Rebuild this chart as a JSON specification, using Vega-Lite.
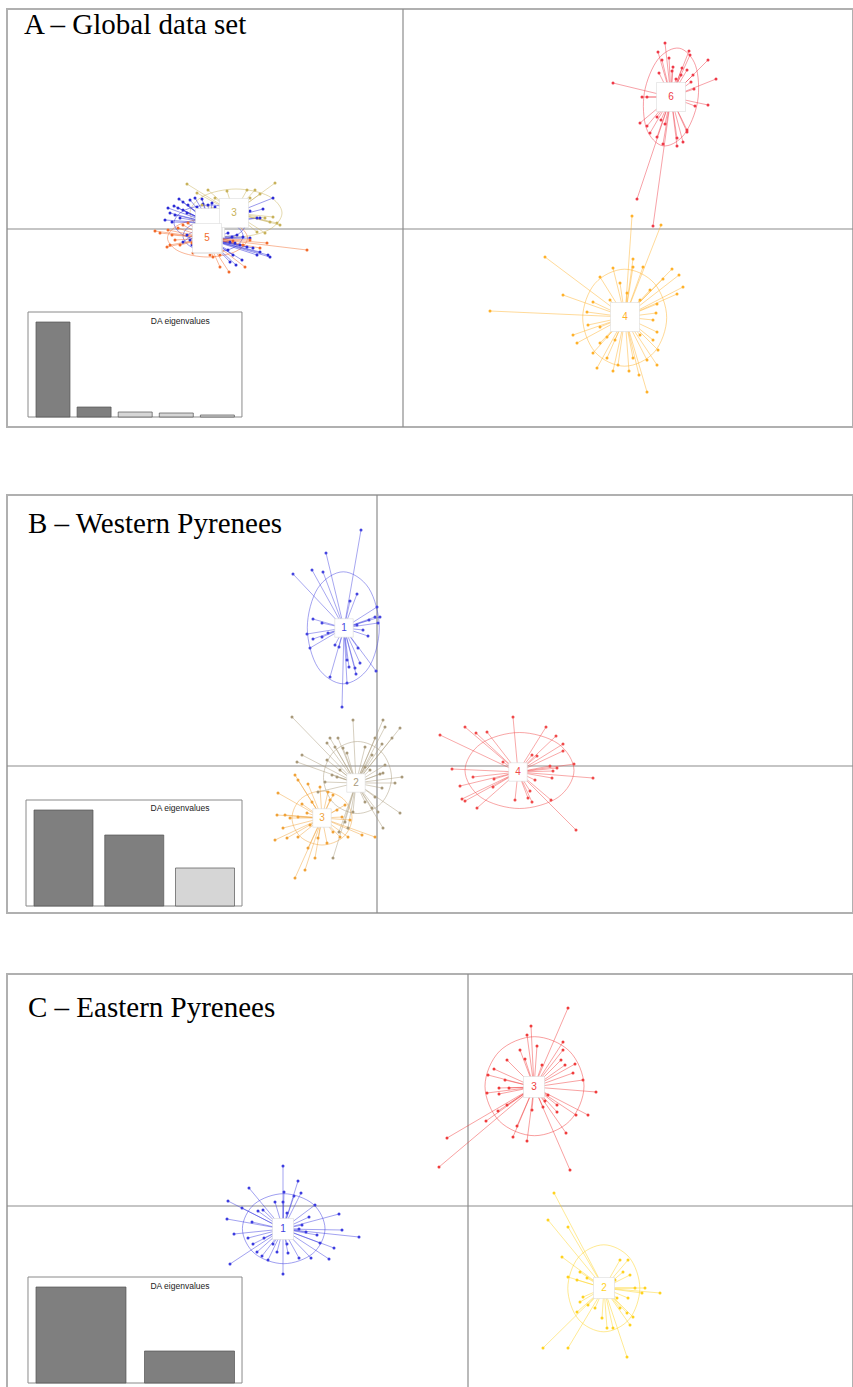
{
"$schema": "https://vega.github.io/schema/vega-lite/v6.json",
"padding": {"left": 5, "top": 7, "right": 0, "bottom": 0},
"background": "white",
"config": {"view": {"stroke": "#b0b0b0", "strokeWidth": 2}, "axis": {"disable": true}},
"resolve": {"scale": {"color": "independent", "fill": "independent"}},
"datasets": {
"ptsA": [
{"grp":"1","x":-22.4,"y":3.0},{"grp":"1","x":-22.0,"y":2.7},{"grp":"1","x":-21.3,"y":2.9},{"grp":"1","x":-20.8,"y":3.1},{"grp":"1","x":-20.1,"y":3.0},{"grp":"1","x":-19.5,"y":2.4},{"grp":"1","x":-18.8,"y":2.2},{"grp":"1","x":-22.9,"y":2.3},{"grp":"1","x":-22.5,"y":2.1},{"grp":"1","x":-22.0,"y":1.9},{"grp":"1","x":-23.3,"y":1.6},{"grp":"1","x":-22.8,"y":1.4},{"grp":"1","x":-23.8,"y":0.9},{"grp":"1","x":-23.1,"y":0.7},{"grp":"1","x":-22.3,"y":1.1},{"grp":"1","x":-21.6,"y":1.6},{"grp":"1","x":-20.6,"y":2.2},{"grp":"1","x":-20.0,"y":2.5},{"grp":"1","x":-19.1,"y":2.6},{"grp":"1","x":-21.5,"y":2.4},{"grp":"1","x":-23.5,"y":2.1},{"grp":"1","x":-13.0,"y":3.1},{"grp":"1","x":-14.0,"y":2.0},{"grp":"1","x":-14.6,"y":1.1},{"grp":"1","x":-14.3,"y":1.1},{"grp":"1","x":-15.3,"y":1.8},{"grp":"1","x":-21.6,"y":-0.6},{"grp":"1","x":-21.3,"y":-1.1},{"grp":"1","x":-22.0,"y":-1.3},{"grp":"1","x":-21.1,"y":-1.6},
{"grp":"2","x":-17.5,"y":-0.4},{"grp":"2","x":-17.1,"y":-0.8},{"grp":"2","x":-16.6,"y":-0.6},{"grp":"2","x":-16.0,"y":-0.8},{"grp":"2","x":-15.3,"y":-0.9},{"grp":"2","x":-17.3,"y":-1.3},{"grp":"2","x":-16.8,"y":-1.4},{"grp":"2","x":-16.3,"y":-1.6},{"grp":"2","x":-15.6,"y":-1.8},{"grp":"2","x":-15.0,"y":-1.9},{"grp":"2","x":-14.3,"y":-2.3},{"grp":"2","x":-13.5,"y":-2.6},{"grp":"2","x":-13.3,"y":-2.8},{"grp":"2","x":-17.5,"y":-2.1},{"grp":"2","x":-17.0,"y":-2.6},{"grp":"2","x":-17.3,"y":-3.3},{"grp":"2","x":-16.7,"y":-3.6},{"grp":"2","x":-16.1,"y":-3.1},{"grp":"2","x":-14.6,"y":-2.6},
{"grp":"3","x":-21.6,"y":4.5},{"grp":"3","x":-19.5,"y":3.9},{"grp":"3","x":-17.6,"y":3.8},{"grp":"3","x":-15.6,"y":3.9},{"grp":"3","x":-12.8,"y":4.6},{"grp":"3","x":-14.3,"y":3.5},{"grp":"3","x":-15.3,"y":3.1},{"grp":"3","x":-13.8,"y":1.1},{"grp":"3","x":-13.3,"y":0.7},{"grp":"3","x":-12.6,"y":0.6},{"grp":"3","x":-12.3,"y":0.4},{"grp":"3","x":-13.0,"y":1.2},{"grp":"3","x":-14.6,"y":-0.3},{"grp":"3","x":-13.8,"y":-0.4},{"grp":"3","x":-18.8,"y":3.1},{"grp":"3","x":-20.6,"y":3.6},{"grp":"3","x":-20.1,"y":2.4},{"grp":"3","x":-14.8,"y":3.9},{"grp":"3","x":-17.3,"y":2.4},{"grp":"3","x":-15.8,"y":1.1},{"grp":"3","x":-17.8,"y":0.5},
{"grp":"4","x":22.9,"y":1.3},{"grp":"4","x":25.8,"y":0.4},{"grp":"4","x":14.2,"y":-2.8},{"grp":"4","x":8.7,"y":-8.2},{"grp":"4","x":23.0,"y":-3.0},{"grp":"4","x":24.0,"y":-3.8},{"grp":"4","x":21.0,"y":-3.9},{"grp":"4","x":26.9,"y":-4.0},{"grp":"4","x":27.6,"y":-4.6},{"grp":"4","x":19.7,"y":-4.8},{"grp":"4","x":26.0,"y":-5.0},{"grp":"4","x":28.0,"y":-5.8},{"grp":"4","x":21.7,"y":-5.4},{"grp":"4","x":16.0,"y":-6.6},{"grp":"4","x":27.4,"y":-6.5},{"grp":"4","x":19.0,"y":-7.3},{"grp":"4","x":25.4,"y":-7.5},{"grp":"4","x":18.4,"y":-8.3},{"grp":"4","x":25.3,"y":-8.4},{"grp":"4","x":25.0,"y":-9.1},{"grp":"4","x":18.5,"y":-9.6},{"grp":"4","x":17.0,"y":-10.6},{"grp":"4","x":25.4,"y":-10.3},{"grp":"4","x":17.4,"y":-11.4},{"grp":"4","x":19.7,"y":-11.4},{"grp":"4","x":25.0,"y":-11.1},{"grp":"4","x":25.5,"y":-12.1},{"grp":"4","x":19.0,"y":-12.4},{"grp":"4","x":20.4,"y":-12.9},{"grp":"4","x":23.0,"y":-12.9},{"grp":"4","x":21.5,"y":-13.6},{"grp":"4","x":24.4,"y":-13.1},{"grp":"4","x":25.4,"y":-13.6},{"grp":"4","x":19.4,"y":-13.9},{"grp":"4","x":23.6,"y":-14.6},{"grp":"4","x":24.4,"y":-16.3},{"grp":"4","x":22.6,"y":-14.2},{"grp":"4","x":21.0,"y":-14.2},{"grp":"4","x":20.4,"y":-10.8},{"grp":"4","x":23.0,"y":-3.8},{"grp":"4","x":22.4,"y":-6.4},{"grp":"4","x":24.7,"y":-6.1},{"grp":"4","x":19.7,"y":-9.8},{"grp":"4","x":20.7,"y":-7.1},{"grp":"4","x":23.7,"y":-7.1},{"grp":"4","x":21.2,"y":-11.1},{"grp":"4","x":23.7,"y":-10.6},
{"grp":"5","x":-24.8,"y":-0.2},{"grp":"5","x":-24.3,"y":-0.4},{"grp":"5","x":-23.5,"y":-0.1},{"grp":"5","x":-23.1,"y":-0.6},{"grp":"5","x":-22.8,"y":-1.1},{"grp":"5","x":-23.3,"y":-1.6},{"grp":"5","x":-22.3,"y":-1.6},{"grp":"5","x":-22.5,"y":0.1},{"grp":"5","x":-22.0,"y":0.4},{"grp":"5","x":-21.5,"y":0.6},{"grp":"5","x":-21.0,"y":-2.4},{"grp":"5","x":-19.3,"y":-2.6},{"grp":"5","x":-18.3,"y":-2.6},{"grp":"5","x":-18.1,"y":-2.2},{"grp":"5","x":-17.0,"y":-1.2},{"grp":"5","x":-15.3,"y":-1.1},{"grp":"5","x":-13.6,"y":-1.4},{"grp":"5","x":-9.6,"y":-2.1},{"grp":"5","x":-16.0,"y":-1.6},{"grp":"5","x":-14.3,"y":-1.9},{"grp":"5","x":-17.4,"y":-4.3},{"grp":"5","x":-15.8,"y":-3.8},{"grp":"5","x":-18.3,"y":-3.8},{"grp":"5","x":-21.1,"y":-1.4},{"grp":"5","x":-23.6,"y":-1.8},{"grp":"5","x":-19.0,"y":-2.8},
{"grp":"6","x":26.2,"y":18.6},{"grp":"6","x":25.5,"y":17.7},{"grp":"6","x":28.6,"y":17.8},{"grp":"6","x":28.7,"y":17.4},{"grp":"6","x":25.9,"y":16.9},{"grp":"6","x":26.6,"y":17.1},{"grp":"6","x":30.5,"y":16.9},{"grp":"6","x":27.0,"y":16.2},{"grp":"6","x":27.9,"y":16.1},{"grp":"6","x":28.4,"y":15.9},{"grp":"6","x":29.0,"y":15.4},{"grp":"6","x":25.6,"y":15.6},{"grp":"6","x":31.3,"y":15.0},{"grp":"6","x":21.0,"y":14.6},{"grp":"6","x":28.8,"y":14.7},{"grp":"6","x":29.1,"y":14.0},{"grp":"6","x":23.9,"y":13.2},{"grp":"6","x":24.4,"y":13.2},{"grp":"6","x":30.5,"y":12.4},{"grp":"6","x":29.2,"y":12.3},{"grp":"6","x":25.4,"y":11.2},{"grp":"6","x":23.7,"y":10.6},{"grp":"6","x":25.8,"y":10.9},{"grp":"6","x":26.2,"y":10.5},{"grp":"6","x":24.7,"y":9.6},{"grp":"6","x":28.4,"y":9.7},{"grp":"6","x":25.4,"y":9.2},{"grp":"6","x":27.4,"y":9.1},{"grp":"6","x":28.0,"y":8.7},{"grp":"6","x":26.0,"y":8.5},{"grp":"6","x":27.4,"y":8.3},{"grp":"6","x":23.4,"y":3.0},{"grp":"6","x":25.0,"y":0.3},{"grp":"6","x":27.8,"y":15.4},{"grp":"6","x":27.3,"y":15.0},{"grp":"6","x":26.9,"y":15.8},{"grp":"6","x":28.4,"y":9.9},{"grp":"6","x":24.4,"y":10.3}
],
"cenA": [
{"grp":"1","x":-19.3,"y":0.6},{"grp":"2","x":-19.5,"y":-1.0},{"grp":"3","x":-16.9,"y":1.6},{"grp":"4","x":22.2,"y":-8.8},{"grp":"5","x":-19.6,"y":-0.9},{"grp":"6","x":26.8,"y":13.2}
],
"ellA": [
{"grp":"1","k":0,"x":-15.7,"y":0.6},{"grp":"1","k":1,"x":-16.75,"y":1.87},{"grp":"1","k":2,"x":-19.3,"y":2.4},{"grp":"1","k":3,"x":-21.85,"y":1.87},{"grp":"1","k":4,"x":-22.9,"y":0.6},{"grp":"1","k":5,"x":-21.85,"y":-0.67},{"grp":"1","k":6,"x":-19.3,"y":-1.2},{"grp":"1","k":7,"x":-16.75,"y":-0.67},
{"grp":"2","k":0,"x":-16.0,"y":-0.7},{"grp":"2","k":1,"x":-16.88,"y":0.43},{"grp":"2","k":2,"x":-19.0,"y":0.9},{"grp":"2","k":3,"x":-21.12,"y":0.43},{"grp":"2","k":4,"x":-22.0,"y":-0.7},{"grp":"2","k":5,"x":-21.12,"y":-1.83},{"grp":"2","k":6,"x":-19.0,"y":-2.3},{"grp":"2","k":7,"x":-16.88,"y":-1.83},
{"grp":"3","k":0,"x":-12.1,"y":1.6},{"grp":"3","k":1,"x":-13.45,"y":3.3},{"grp":"3","k":2,"x":-16.7,"y":4.0},{"grp":"3","k":3,"x":-19.95,"y":3.3},{"grp":"3","k":4,"x":-21.3,"y":1.6},{"grp":"3","k":5,"x":-19.95,"y":-0.1},{"grp":"3","k":6,"x":-16.7,"y":-0.8},{"grp":"3","k":7,"x":-13.45,"y":-0.1},
{"grp":"4","k":0,"x":26.37,"y":-8.87},{"grp":"4","k":1,"x":25.14,"y":-5.44},{"grp":"4","k":2,"x":22.17,"y":-4.02},{"grp":"4","k":3,"x":19.2,"y":-5.44},{"grp":"4","k":4,"x":17.97,"y":-8.87},{"grp":"4","k":5,"x":19.2,"y":-12.3},{"grp":"4","k":6,"x":22.17,"y":-13.72},{"grp":"4","k":7,"x":25.14,"y":-12.3},
{"grp":"5","k":0,"x":-15.55,"y":-0.9},{"grp":"5","k":1,"x":-16.72,"y":0.44},{"grp":"5","k":2,"x":-19.55,"y":1.0},{"grp":"5","k":3,"x":-22.38,"y":0.44},{"grp":"5","k":4,"x":-23.55,"y":-0.9},{"grp":"5","k":5,"x":-22.38,"y":-2.24},{"grp":"5","k":6,"x":-19.55,"y":-2.8},{"grp":"5","k":7,"x":-16.72,"y":-2.24},
{"grp":"6","k":0,"x":29.46,"y":12.75},{"grp":"6","k":1,"x":29.26,"y":16.33},{"grp":"6","k":2,"x":27.62,"y":18.08},{"grp":"6","k":3,"x":25.5,"y":16.97},{"grp":"6","k":4,"x":24.14,"y":13.65},{"grp":"6","k":5,"x":24.34,"y":10.07},{"grp":"6","k":6,"x":25.98,"y":8.32},{"grp":"6","k":7,"x":28.1,"y":9.43}
],
"eigA": [
{"axis":1,"eig":95,"kept":"yes"},{"axis":2,"eig":10,"kept":"yes"},{"axis":3,"eig":5,"kept":"no"},{"axis":4,"eig":4,"kept":"no"},{"axis":5,"eig":2,"kept":"no"}
],
"ptsB": [
{"grp":"1","x":-1.6,"y":23.6},{"grp":"1","x":-5.1,"y":21.3},{"grp":"1","x":-6.5,"y":19.6},{"grp":"1","x":-5.4,"y":19.4},{"grp":"1","x":-8.4,"y":19.2},{"grp":"1","x":-2.0,"y":17.2},{"grp":"1","x":-2.7,"y":16.5},{"grp":"1","x":0.0,"y":15.9},{"grp":"1","x":-0.2,"y":14.9},{"grp":"1","x":0.3,"y":14.9},{"grp":"1","x":0.1,"y":14.3},{"grp":"1","x":-0.8,"y":14.6},{"grp":"1","x":-2.0,"y":14.1},{"grp":"1","x":-1.4,"y":13.6},{"grp":"1","x":-0.9,"y":13.0},{"grp":"1","x":-6.4,"y":14.7},{"grp":"1","x":-5.5,"y":14.3},{"grp":"1","x":-7.0,"y":13.2},{"grp":"1","x":-6.4,"y":12.7},{"grp":"1","x":-5.5,"y":12.9},{"grp":"1","x":-4.9,"y":13.3},{"grp":"1","x":-6.7,"y":11.8},{"grp":"1","x":-4.2,"y":12.1},{"grp":"1","x":-3.0,"y":10.6},{"grp":"1","x":-2.8,"y":9.9},{"grp":"1","x":-2.2,"y":9.8},{"grp":"1","x":-2.1,"y":9.2},{"grp":"1","x":-1.7,"y":10.3},{"grp":"1","x":-0.1,"y":9.5},{"grp":"1","x":-4.7,"y":8.9},{"grp":"1","x":-3.0,"y":8.3},{"grp":"1","x":-1.9,"y":11.8},{"grp":"1","x":-3.8,"y":11.9},{"grp":"1","x":-3.5,"y":5.9},
{"grp":"2","x":-8.5,"y":4.9},{"grp":"2","x":-2.4,"y":4.6},{"grp":"2","x":0.6,"y":4.6},{"grp":"2","x":0.8,"y":3.9},{"grp":"2","x":2.3,"y":3.8},{"grp":"2","x":-4.7,"y":2.8},{"grp":"2","x":-3.9,"y":2.8},{"grp":"2","x":-0.2,"y":2.8},{"grp":"2","x":1.5,"y":2.8},{"grp":"2","x":-4.2,"y":1.9},{"grp":"2","x":-3.4,"y":1.8},{"grp":"2","x":-1.2,"y":1.9},{"grp":"2","x":0.5,"y":2.2},{"grp":"2","x":-7.5,"y":1.1},{"grp":"2","x":-3.0,"y":1.3},{"grp":"2","x":-0.5,"y":1.1},{"grp":"2","x":-8.0,"y":0.4},{"grp":"2","x":-5.0,"y":0.6},{"grp":"2","x":0.8,"y":0.1},{"grp":"2","x":-1.2,"y":-0.1},{"grp":"2","x":0.6,"y":-0.7},{"grp":"2","x":0.3,"y":-0.8},{"grp":"2","x":2.5,"y":-1.1},{"grp":"2","x":1.8,"y":-1.7},{"grp":"2","x":-4.5,"y":-0.9},{"grp":"2","x":-4.0,"y":-1.1},{"grp":"2","x":-5.2,"y":-1.6},{"grp":"2","x":-5.9,"y":-2.6},{"grp":"2","x":0.5,"y":-2.2},{"grp":"2","x":-0.2,"y":-3.1},{"grp":"2","x":-1.2,"y":-3.6},{"grp":"2","x":-0.5,"y":-4.2},{"grp":"2","x":2.3,"y":-4.7},{"grp":"2","x":0.1,"y":-4.6},{"grp":"2","x":0.6,"y":-6.2},{"grp":"2","x":-2.4,"y":-4.6},{"grp":"2","x":-3.2,"y":-5.6},{"grp":"2","x":-3.8,"y":-6.6},{"grp":"2","x":-4.4,"y":-9.2},{"grp":"2","x":-2.9,"y":-6.2},{"grp":"2","x":-5.0,"y":2.3},{"grp":"2","x":-0.7,"y":-0.4},{"grp":"2","x":-1.7,"y":-2.4},{"grp":"2","x":-3.7,"y":-0.4},
{"grp":"3","x":-9.9,"y":-2.7},{"grp":"3","x":-8.2,"y":-0.9},{"grp":"3","x":-6.9,"y":-1.8},{"grp":"3","x":-5.7,"y":-2.1},{"grp":"3","x":-4.9,"y":-2.6},{"grp":"3","x":-4.4,"y":-2.9},{"grp":"3","x":-6.5,"y":-3.6},{"grp":"3","x":-7.5,"y":-3.8},{"grp":"3","x":-9.2,"y":-4.9},{"grp":"3","x":-10.0,"y":-4.9},{"grp":"3","x":-8.7,"y":-5.2},{"grp":"3","x":-7.9,"y":-5.1},{"grp":"3","x":-7.0,"y":-4.7},{"grp":"3","x":-9.4,"y":-6.2},{"grp":"3","x":-10.2,"y":-7.4},{"grp":"3","x":-9.0,"y":-7.2},{"grp":"3","x":-7.9,"y":-7.1},{"grp":"3","x":-6.9,"y":-8.2},{"grp":"3","x":-5.9,"y":-7.2},{"grp":"3","x":-5.0,"y":-7.7},{"grp":"3","x":-4.4,"y":-6.6},{"grp":"3","x":-3.7,"y":-7.1},{"grp":"3","x":-2.9,"y":-7.1},{"grp":"3","x":-1.5,"y":-6.9},{"grp":"3","x":-0.2,"y":-7.1},{"grp":"3","x":-8.2,"y":-11.2},{"grp":"3","x":-3.2,"y":-3.9},{"grp":"3","x":-3.5,"y":-5.1},{"grp":"3","x":-4.0,"y":-4.4},{"grp":"3","x":-6.2,"y":-9.2},{"grp":"3","x":-7.2,"y":-10.4},{"grp":"3","x":-4.7,"y":-3.4},{"grp":"3","x":-6.7,"y":-5.9},{"grp":"3","x":-2.7,"y":-5.4},{"grp":"3","x":-7.9,"y":-1.4},
{"grp":"4","x":13.6,"y":4.9},{"grp":"4","x":8.8,"y":3.9},{"grp":"4","x":6.3,"y":3.1},{"grp":"4","x":9.9,"y":3.3},{"grp":"4","x":11.0,"y":3.4},{"grp":"4","x":16.9,"y":3.9},{"grp":"4","x":17.9,"y":3.0},{"grp":"4","x":18.6,"y":2.2},{"grp":"4","x":18.6,"y":1.5},{"grp":"4","x":15.5,"y":1.1},{"grp":"4","x":16.0,"y":1.0},{"grp":"4","x":19.7,"y":0.2},{"grp":"4","x":17.3,"y":0.0},{"grp":"4","x":18.0,"y":-0.2},{"grp":"4","x":7.5,"y":-0.3},{"grp":"4","x":17.6,"y":-0.5},{"grp":"4","x":15.8,"y":-1.4},{"grp":"4","x":17.5,"y":-1.2},{"grp":"4","x":21.6,"y":-1.2},{"grp":"4","x":9.6,"y":-1.1},{"grp":"4","x":11.7,"y":-1.3},{"grp":"4","x":8.3,"y":-2.0},{"grp":"4","x":11.6,"y":-2.1},{"grp":"4","x":8.5,"y":-3.3},{"grp":"4","x":8.8,"y":-3.5},{"grp":"4","x":10.0,"y":-4.2},{"grp":"4","x":13.8,"y":-3.4},{"grp":"4","x":15.1,"y":-3.2},{"grp":"4","x":15.5,"y":-3.6},{"grp":"4","x":17.4,"y":-3.4},{"grp":"4","x":19.9,"y":-6.4},{"grp":"4","x":15.3,"y":-2.5},{"grp":"4","x":12.6,"y":0.4}
],
"cenB": [
{"grp":"1","x":-3.3,"y":13.8},{"grp":"2","x":-2.1,"y":-1.7},{"grp":"3","x":-5.5,"y":-5.2},{"grp":"4","x":14.1,"y":-0.6}
],
"ellB": [
{"grp":"1","k":0,"x":0.23,"y":13.82},{"grp":"1","k":1,"x":-0.82,"y":17.78},{"grp":"1","k":2,"x":-3.37,"y":19.42},{"grp":"1","k":3,"x":-5.92,"y":17.78},{"grp":"1","k":4,"x":-6.97,"y":13.82},{"grp":"1","k":5,"x":-5.92,"y":9.86},{"grp":"1","k":6,"x":-3.37,"y":8.22},{"grp":"1","k":7,"x":-0.82,"y":9.86},
{"grp":"2","k":0,"x":1.45,"y":-1.15},{"grp":"2","k":1,"x":0.45,"y":1.4},{"grp":"2","k":2,"x":-1.95,"y":2.45},{"grp":"2","k":3,"x":-4.35,"y":1.4},{"grp":"2","k":4,"x":-5.35,"y":-1.15},{"grp":"2","k":5,"x":-4.35,"y":-3.7},{"grp":"2","k":6,"x":-1.95,"y":-4.75},{"grp":"2","k":7,"x":0.45,"y":-3.7},
{"grp":"3","k":0,"x":-2.5,"y":-5.2},{"grp":"3","k":1,"x":-3.38,"y":-3.29},{"grp":"3","k":2,"x":-5.5,"y":-2.5},{"grp":"3","k":3,"x":-7.62,"y":-3.29},{"grp":"3","k":4,"x":-8.5,"y":-5.2},{"grp":"3","k":5,"x":-7.62,"y":-7.11},{"grp":"3","k":6,"x":-5.5,"y":-7.9},{"grp":"3","k":7,"x":-3.38,"y":-7.11},
{"grp":"4","k":0,"x":19.7,"y":-0.45},{"grp":"4","k":1,"x":18.1,"y":2.24},{"grp":"4","k":2,"x":14.25,"y":3.35},{"grp":"4","k":3,"x":10.4,"y":2.24},{"grp":"4","k":4,"x":8.8,"y":-0.45},{"grp":"4","k":5,"x":10.4,"y":-3.14},{"grp":"4","k":6,"x":14.25,"y":-4.25},{"grp":"4","k":7,"x":18.1,"y":-3.14}
],
"eigB": [
{"axis":1,"eig":96,"kept":"yes"},{"axis":2,"eig":71,"kept":"yes"},{"axis":3,"eig":38,"kept":"no"}
],
"ptsC": [
{"grp":"1","x":-18.5,"y":4.0},{"grp":"1","x":-17.0,"y":2.5},{"grp":"1","x":-21.9,"y":1.8},{"grp":"1","x":-18.4,"y":1.4},{"grp":"1","x":-17.4,"y":1.0},{"grp":"1","x":-16.7,"y":1.3},{"grp":"1","x":-24.0,"y":0.5},{"grp":"1","x":-19.3,"y":0.4},{"grp":"1","x":-18.5,"y":0.4},{"grp":"1","x":-15.3,"y":0.1},{"grp":"1","x":-22.6,"y":-0.2},{"grp":"1","x":-20.5,"y":-0.4},{"grp":"1","x":-21.0,"y":-0.5},{"grp":"1","x":-18.1,"y":-0.7},{"grp":"1","x":-12.9,"y":-0.8},{"grp":"1","x":-15.9,"y":-1.1},{"grp":"1","x":-24.1,"y":-1.3},{"grp":"1","x":-21.6,"y":-1.6},{"grp":"1","x":-16.9,"y":-2.3},{"grp":"1","x":-12.6,"y":-2.4},{"grp":"1","x":-23.4,"y":-2.8},{"grp":"1","x":-22.0,"y":-3.2},{"grp":"1","x":-20.4,"y":-3.2},{"grp":"1","x":-15.1,"y":-2.9},{"grp":"1","x":-10.9,"y":-3.1},{"grp":"1","x":-21.5,"y":-3.8},{"grp":"1","x":-19.5,"y":-3.8},{"grp":"1","x":-18.1,"y":-3.8},{"grp":"1","x":-14.8,"y":-3.7},{"grp":"1","x":-13.4,"y":-4.2},{"grp":"1","x":-21.1,"y":-4.6},{"grp":"1","x":-19.1,"y":-4.6},{"grp":"1","x":-18.0,"y":-4.7},{"grp":"1","x":-16.9,"y":-5.2},{"grp":"1","x":-15.7,"y":-5.2},{"grp":"1","x":-20.6,"y":-5.0},{"grp":"1","x":-20.0,"y":-5.4},{"grp":"1","x":-13.9,"y":-5.3},{"grp":"1","x":-23.8,"y":-5.8},{"grp":"1","x":-18.5,"y":-6.8},{"grp":"1","x":-16.2,"y":-2.6},{"grp":"1","x":-16.6,"y":-1.9},
{"grp":"2","x":8.6,"y":1.3},{"grp":"2","x":8.0,"y":-1.4},{"grp":"2","x":10.0,"y":-2.1},{"grp":"2","x":9.4,"y":-5.1},{"grp":"2","x":15.2,"y":-5.4},{"grp":"2","x":16.0,"y":-5.4},{"grp":"2","x":11.2,"y":-6.6},{"grp":"2","x":15.5,"y":-6.6},{"grp":"2","x":10.0,"y":-7.1},{"grp":"2","x":10.9,"y":-7.4},{"grp":"2","x":11.9,"y":-7.2},{"grp":"2","x":16.2,"y":-6.9},{"grp":"2","x":14.7,"y":-7.4},{"grp":"2","x":16.7,"y":-8.2},{"grp":"2","x":17.7,"y":-8.2},{"grp":"2","x":17.4,"y":-8.7},{"grp":"2","x":11.5,"y":-9.1},{"grp":"2","x":11.2,"y":-9.6},{"grp":"2","x":16.0,"y":-9.2},{"grp":"2","x":12.0,"y":-9.9},{"grp":"2","x":10.9,"y":-10.6},{"grp":"2","x":12.7,"y":-10.2},{"grp":"2","x":15.2,"y":-10.2},{"grp":"2","x":15.9,"y":-10.7},{"grp":"2","x":16.5,"y":-11.1},{"grp":"2","x":13.4,"y":-11.2},{"grp":"2","x":16.2,"y":-11.9},{"grp":"2","x":13.9,"y":-12.2},{"grp":"2","x":14.5,"y":-12.2},{"grp":"2","x":7.5,"y":-14.2},{"grp":"2","x":10.0,"y":-14.2},{"grp":"2","x":15.9,"y":-15.1},{"grp":"2","x":14.9,"y":-9.2},{"grp":"2","x":19.2,"y":-8.7},{"grp":"2","x":12.7,"y":-7.7},{"grp":"2","x":14.2,"y":-8.9},
{"grp":"3","x":10.0,"y":19.8},{"grp":"3","x":6.3,"y":18.0},{"grp":"3","x":5.9,"y":17.1},{"grp":"3","x":5.2,"y":15.6},{"grp":"3","x":6.9,"y":16.0},{"grp":"3","x":9.5,"y":16.4},{"grp":"3","x":9.5,"y":15.6},{"grp":"3","x":3.9,"y":14.6},{"grp":"3","x":5.7,"y":14.7},{"grp":"3","x":9.3,"y":14.6},{"grp":"3","x":10.7,"y":14.2},{"grp":"3","x":7.4,"y":14.1},{"grp":"3","x":2.6,"y":13.7},{"grp":"3","x":9.7,"y":14.1},{"grp":"3","x":10.5,"y":13.3},{"grp":"3","x":2.0,"y":13.1},{"grp":"3","x":3.7,"y":12.6},{"grp":"3","x":11.5,"y":12.6},{"grp":"3","x":3.1,"y":11.8},{"grp":"3","x":4.1,"y":11.8},{"grp":"3","x":12.8,"y":11.4},{"grp":"3","x":1.9,"y":11.3},{"grp":"3","x":3.1,"y":11.2},{"grp":"3","x":8.0,"y":11.1},{"grp":"3","x":7.7,"y":10.5},{"grp":"3","x":3.9,"y":10.1},{"grp":"3","x":8.9,"y":10.1},{"grp":"3","x":3.0,"y":9.5},{"grp":"3","x":6.4,"y":9.6},{"grp":"3","x":7.5,"y":9.9},{"grp":"3","x":8.9,"y":9.4},{"grp":"3","x":12.0,"y":9.1},{"grp":"3","x":10.8,"y":9.1},{"grp":"3","x":1.8,"y":8.5},{"grp":"3","x":4.9,"y":8.0},{"grp":"3","x":9.8,"y":7.3},{"grp":"3","x":4.5,"y":6.9},{"grp":"3","x":5.9,"y":6.5},{"grp":"3","x":-2.1,"y":6.8},{"grp":"3","x":-2.9,"y":3.9},{"grp":"3","x":10.2,"y":3.6}
],
"cenC": [
{"grp":"1","x":-18.5,"y":-2.3},{"grp":"2","x":13.6,"y":-8.2},{"grp":"3","x":6.6,"y":11.9}
],
"ellC": [
{"grp":"1","k":0,"x":-14.3,"y":-2.27},{"grp":"1","k":1,"x":-15.51,"y":0.2},{"grp":"1","k":2,"x":-18.43,"y":1.23},{"grp":"1","k":3,"x":-21.35,"y":0.2},{"grp":"1","k":4,"x":-22.56,"y":-2.27},{"grp":"1","k":5,"x":-21.35,"y":-4.74},{"grp":"1","k":6,"x":-18.43,"y":-5.77},{"grp":"1","k":7,"x":-15.51,"y":-4.74},
{"grp":"2","k":0,"x":17.18,"y":-8.23},{"grp":"2","k":1,"x":16.13,"y":-5.15},{"grp":"2","k":2,"x":13.58,"y":-3.88},{"grp":"2","k":3,"x":11.03,"y":-5.15},{"grp":"2","k":4,"x":9.98,"y":-8.23},{"grp":"2","k":5,"x":11.03,"y":-11.31},{"grp":"2","k":6,"x":13.58,"y":-12.58},{"grp":"2","k":7,"x":16.13,"y":-11.31},
{"grp":"3","k":0,"x":11.6,"y":11.98},{"grp":"3","k":1,"x":10.15,"y":15.48},{"grp":"3","k":2,"x":6.65,"y":16.93},{"grp":"3","k":3,"x":3.15,"y":15.48},{"grp":"3","k":4,"x":1.7,"y":11.98},{"grp":"3","k":5,"x":3.15,"y":8.48},{"grp":"3","k":6,"x":6.65,"y":7.03},{"grp":"3","k":7,"x":10.15,"y":8.48}
],
"eigC": [
{"axis":1,"eig":96,"kept":"yes"},{"axis":2,"eig":32,"kept":"yes"}
]
},
"spacing": 64,
"vconcat": [
{
"width": 846, "height": 418,
"resolve": {"scale": {"x": "independent", "y": "independent"}},
"layer": [
{"layer": [
{"data": {"values": [{}]}, "mark": {"type": "rule", "color": "#8c8c8c", "strokeWidth": 1.2}, "encoding": {"y": {"datum": 0, "type": "quantitative", "scale": {"domain": [-19.8, 22.0], "nice": false, "zero": false}}}},
{"data": {"values": [{}]}, "mark": {"type": "rule", "color": "#8c8c8c", "strokeWidth": 1.2}, "encoding": {"x": {"datum": 0, "type": "quantitative", "scale": {"domain": [-39.6, 45.0], "nice": false, "zero": false}}}},
{"data": {"name": "ellA"}, "mark": {"type": "line", "interpolate": "cardinal-closed", "strokeWidth": 0.9, "opacity": 0.55},
 "encoding": {"x": {"field": "x", "type": "quantitative", "scale": {"domain": [-39.6, 45.0], "nice": false, "zero": false}}, "y": {"field": "y", "type": "quantitative", "scale": {"domain": [-19.8, 22.0], "nice": false, "zero": false}}, "order": {"field": "k", "type": "quantitative"},
 "color": {"field": "grp", "type": "nominal", "legend": null, "scale": {"domain": ["1","2","3","4","5","6"], "range": ["#2b2bd6","#2b2bd6","#c8b25a","#ffb12a","#f26b2c","#ef3a48"]}}}},
{"data": {"name": "ptsA"}, "transform": [{"lookup": "grp", "from": {"data": {"name": "cenA"}, "key": "grp", "fields": ["x", "y"]}, "as": ["cx", "cy"]}],
 "mark": {"type": "rule", "strokeWidth": 0.8, "opacity": 0.6},
 "encoding": {"x": {"field": "x", "type": "quantitative", "scale": {"domain": [-39.6, 45.0], "nice": false, "zero": false}}, "y": {"field": "y", "type": "quantitative", "scale": {"domain": [-19.8, 22.0], "nice": false, "zero": false}}, "x2": {"field": "cx"}, "y2": {"field": "cy"},
 "color": {"field": "grp", "type": "nominal", "legend": null}}},
{"data": {"name": "ptsA"}, "mark": {"type": "circle", "size": 9, "opacity": 1},
 "encoding": {"x": {"field": "x", "type": "quantitative", "scale": {"domain": [-39.6, 45.0], "nice": false, "zero": false}}, "y": {"field": "y", "type": "quantitative", "scale": {"domain": [-19.8, 22.0], "nice": false, "zero": false}}, "color": {"field": "grp", "type": "nominal", "legend": null}}},
{"data": {"name": "cenA"}, "mark": {"type": "square", "size": 841, "fill": "white", "stroke": "#dcdcdc", "strokeWidth": 0.6, "opacity": 1},
 "encoding": {"x": {"field": "x", "type": "quantitative", "scale": {"domain": [-39.6, 45.0], "nice": false, "zero": false}}, "y": {"field": "y", "type": "quantitative", "scale": {"domain": [-19.8, 22.0], "nice": false, "zero": false}}}},
{"data": {"name": "cenA"}, "transform": [{"filter": "datum.grp != '1' && datum.grp != '2'"}], "mark": {"type": "text", "fontSize": 10, "font": "Liberation Sans"},
 "encoding": {"x": {"field": "x", "type": "quantitative", "scale": {"domain": [-39.6, 45.0], "nice": false, "zero": false}}, "y": {"field": "y", "type": "quantitative", "scale": {"domain": [-19.8, 22.0], "nice": false, "zero": false}}, "text": {"field": "grp"}, "color": {"field": "grp", "type": "nominal", "legend": null}}},
{"data": {"values": [{}]}, "mark": {"type": "text", "text": "A – Global data set", "font": "Liberation Serif", "fontSize": 29, "align": "left", "baseline": "alphabetic", "color": "#000000"},
 "encoding": {"x": {"datum": -37.9, "type": "quantitative", "scale": {"domain": [-39.6, 45.0], "nice": false, "zero": false}}, "y": {"datum": 19.5, "type": "quantitative", "scale": {"domain": [-19.8, 22.0], "nice": false, "zero": false}}}}
]},
{"layer": [
{"data": {"values": [{}]}, "mark": {"type": "rect", "fill": "white", "stroke": "#8a8a8a", "strokeWidth": 1},
 "encoding": {"x": {"datum": 0.392, "type": "quantitative", "scale": {"domain": [-0.119, 20.465], "nice": false, "zero": false, "padding": 0}}, "x2": {"datum": 5.598}, "y": {"datum": 0, "type": "quantitative", "scale": {"domain": [-10, 408], "nice": false, "zero": false, "padding": 0}}, "y2": {"datum": 105}}},
{"data": {"name": "eigA"}, "mark": {"type": "bar", "width": 34, "stroke": "#555555", "strokeWidth": 0.7},
 "encoding": {"x": {"field": "axis", "type": "quantitative", "scale": {"domain": [-0.119, 20.465], "nice": false, "zero": false, "padding": 0}}, "y": {"field": "eig", "type": "quantitative", "scale": {"domain": [-10, 408], "nice": false, "zero": false, "padding": 0}}, "y2": {"datum": 0},
 "fill": {"field": "kept", "type": "nominal", "legend": null, "scale": {"domain": ["yes", "no"], "range": ["#7f7f7f", "#d6d6d6"]}}}},
{"data": {"values": [{}]}, "mark": {"type": "text", "text": "DA eigenvalues", "font": "Liberation Sans", "fontSize": 8.5, "color": "#222222"},
 "encoding": {"x": {"datum": 4.097, "type": "quantitative", "scale": {"domain": [-0.119, 20.465], "nice": false, "zero": false, "padding": 0}}, "y": {"datum": 96.3, "type": "quantitative", "scale": {"domain": [-10, 408], "nice": false, "zero": false, "padding": 0}}}}
]}
]
},
{
"spacing": 57,
"resolve": {"scale": {"color": "independent", "fill": "independent"}},
"vconcat": [
{
"width": 846, "height": 418,
"resolve": {"scale": {"x": "independent", "y": "independent"}},
"layer": [
{"layer": [
{"data": {"values": [{}]}, "mark": {"type": "rule", "color": "#8c8c8c", "strokeWidth": 1.2}, "encoding": {"y": {"datum": 0, "type": "quantitative", "scale": {"domain": [-14.7, 27.1], "nice": false, "zero": false}}}},
{"data": {"values": [{}]}, "mark": {"type": "rule", "color": "#8c8c8c", "strokeWidth": 1.2}, "encoding": {"x": {"datum": 0, "type": "quantitative", "scale": {"domain": [-37.0, 47.6], "nice": false, "zero": false}}}},
{"data": {"name": "ellB"}, "mark": {"type": "line", "interpolate": "cardinal-closed", "strokeWidth": 0.9, "opacity": 0.55},
 "encoding": {"x": {"field": "x", "type": "quantitative", "scale": {"domain": [-37.0, 47.6], "nice": false, "zero": false}}, "y": {"field": "y", "type": "quantitative", "scale": {"domain": [-14.7, 27.1], "nice": false, "zero": false}}, "order": {"field": "k", "type": "quantitative"},
 "color": {"field": "grp", "type": "nominal", "legend": null, "scale": {"domain": ["1","2","3","4"], "range": ["#4545e0","#a8997a","#f0a238","#f04a4a"]}}}},
{"data": {"name": "ptsB"}, "transform": [{"lookup": "grp", "from": {"data": {"name": "cenB"}, "key": "grp", "fields": ["x", "y"]}, "as": ["cx", "cy"]}],
 "mark": {"type": "rule", "strokeWidth": 0.8, "opacity": 0.6},
 "encoding": {"x": {"field": "x", "type": "quantitative", "scale": {"domain": [-37.0, 47.6], "nice": false, "zero": false}}, "y": {"field": "y", "type": "quantitative", "scale": {"domain": [-14.7, 27.1], "nice": false, "zero": false}}, "x2": {"field": "cx"}, "y2": {"field": "cy"},
 "color": {"field": "grp", "type": "nominal", "legend": null}}},
{"data": {"name": "ptsB"}, "mark": {"type": "circle", "size": 9, "opacity": 1},
 "encoding": {"x": {"field": "x", "type": "quantitative", "scale": {"domain": [-37.0, 47.6], "nice": false, "zero": false}}, "y": {"field": "y", "type": "quantitative", "scale": {"domain": [-14.7, 27.1], "nice": false, "zero": false}}, "color": {"field": "grp", "type": "nominal", "legend": null}}},
{"data": {"name": "cenB"}, "mark": {"type": "square", "size": 342, "fill": "white", "stroke": "#dcdcdc", "strokeWidth": 0.6, "opacity": 1},
 "encoding": {"x": {"field": "x", "type": "quantitative", "scale": {"domain": [-37.0, 47.6], "nice": false, "zero": false}}, "y": {"field": "y", "type": "quantitative", "scale": {"domain": [-14.7, 27.1], "nice": false, "zero": false}}}},
{"data": {"name": "cenB"}, "mark": {"type": "text", "fontSize": 10, "font": "Liberation Sans"},
 "encoding": {"x": {"field": "x", "type": "quantitative", "scale": {"domain": [-37.0, 47.6], "nice": false, "zero": false}}, "y": {"field": "y", "type": "quantitative", "scale": {"domain": [-14.7, 27.1], "nice": false, "zero": false}}, "text": {"field": "grp"}, "color": {"field": "grp", "type": "nominal", "legend": null}}},
{"data": {"values": [{}]}, "mark": {"type": "text", "text": "B – Western Pyrenees", "font": "Liberation Serif", "fontSize": 29, "align": "left", "baseline": "alphabetic", "color": "#000000"},
 "encoding": {"x": {"datum": -34.9, "type": "quantitative", "scale": {"domain": [-37.0, 47.6], "nice": false, "zero": false}}, "y": {"datum": 23.3, "type": "quantitative", "scale": {"domain": [-14.7, 27.1], "nice": false, "zero": false}}}}
]},
{"layer": [
{"data": {"values": [{}]}, "mark": {"type": "rect", "fill": "white", "stroke": "#8a8a8a", "strokeWidth": 1},
 "encoding": {"x": {"datum": 0.47, "type": "quantitative", "scale": {"domain": [0.2014, 12.159], "nice": false, "zero": false, "padding": 0}}, "x2": {"datum": 3.523}, "y": {"datum": 0, "type": "quantitative", "scale": {"domain": [-7, 411], "nice": false, "zero": false, "padding": 0}}, "y2": {"datum": 106}}},
{"data": {"name": "eigB"}, "mark": {"type": "bar", "width": 59, "stroke": "#555555", "strokeWidth": 0.7},
 "encoding": {"x": {"field": "axis", "type": "quantitative", "scale": {"domain": [0.2014, 12.159], "nice": false, "zero": false, "padding": 0}}, "y": {"field": "eig", "type": "quantitative", "scale": {"domain": [-7, 411], "nice": false, "zero": false, "padding": 0}}, "y2": {"datum": 0},
 "fill": {"field": "kept", "type": "nominal", "legend": null, "scale": {"domain": ["yes", "no"], "range": ["#7f7f7f", "#d6d6d6"]}}}},
{"data": {"values": [{}]}, "mark": {"type": "text", "text": "DA eigenvalues", "font": "Liberation Sans", "fontSize": 8.5, "color": "#222222"},
 "encoding": {"x": {"datum": 2.647, "type": "quantitative", "scale": {"domain": [0.2014, 12.159], "nice": false, "zero": false, "padding": 0}}, "y": {"datum": 98, "type": "quantitative", "scale": {"domain": [-7, 411], "nice": false, "zero": false, "padding": 0}}}}
]}
]
},
{
"width": 846, "height": 418,
"resolve": {"scale": {"x": "independent", "y": "independent"}},
"layer": [
{"layer": [
{"data": {"values": [{}]}, "mark": {"type": "rule", "color": "#8c8c8c", "strokeWidth": 1.2}, "encoding": {"y": {"datum": 0, "type": "quantitative", "scale": {"domain": [-18.6, 23.2], "nice": false, "zero": false}}}},
{"data": {"values": [{}]}, "mark": {"type": "rule", "color": "#8c8c8c", "strokeWidth": 1.2}, "encoding": {"x": {"datum": 0, "type": "quantitative", "scale": {"domain": [-46.1, 38.5], "nice": false, "zero": false}}}},
{"data": {"name": "ellC"}, "mark": {"type": "line", "interpolate": "cardinal-closed", "strokeWidth": 0.9, "opacity": 0.55},
 "encoding": {"x": {"field": "x", "type": "quantitative", "scale": {"domain": [-46.1, 38.5], "nice": false, "zero": false}}, "y": {"field": "y", "type": "quantitative", "scale": {"domain": [-18.6, 23.2], "nice": false, "zero": false}}, "order": {"field": "k", "type": "quantitative"},
 "color": {"field": "grp", "type": "nominal", "legend": null, "scale": {"domain": ["1","2","3"], "range": ["#3c3ce0","#ffd21f","#f03c3c"]}}}},
{"data": {"name": "ptsC"}, "transform": [{"lookup": "grp", "from": {"data": {"name": "cenC"}, "key": "grp", "fields": ["x", "y"]}, "as": ["cx", "cy"]}],
 "mark": {"type": "rule", "strokeWidth": 0.8, "opacity": 0.6},
 "encoding": {"x": {"field": "x", "type": "quantitative", "scale": {"domain": [-46.1, 38.5], "nice": false, "zero": false}}, "y": {"field": "y", "type": "quantitative", "scale": {"domain": [-18.6, 23.2], "nice": false, "zero": false}}, "x2": {"field": "cx"}, "y2": {"field": "cy"},
 "color": {"field": "grp", "type": "nominal", "legend": null}}},
{"data": {"name": "ptsC"}, "mark": {"type": "circle", "size": 9, "opacity": 1},
 "encoding": {"x": {"field": "x", "type": "quantitative", "scale": {"domain": [-46.1, 38.5], "nice": false, "zero": false}}, "y": {"field": "y", "type": "quantitative", "scale": {"domain": [-18.6, 23.2], "nice": false, "zero": false}}, "color": {"field": "grp", "type": "nominal", "legend": null}}},
{"data": {"name": "cenC"}, "mark": {"type": "square", "size": 441, "fill": "white", "stroke": "#dcdcdc", "strokeWidth": 0.6, "opacity": 1},
 "encoding": {"x": {"field": "x", "type": "quantitative", "scale": {"domain": [-46.1, 38.5], "nice": false, "zero": false}}, "y": {"field": "y", "type": "quantitative", "scale": {"domain": [-18.6, 23.2], "nice": false, "zero": false}}}},
{"data": {"name": "cenC"}, "mark": {"type": "text", "fontSize": 10, "font": "Liberation Sans"},
 "encoding": {"x": {"field": "x", "type": "quantitative", "scale": {"domain": [-46.1, 38.5], "nice": false, "zero": false}}, "y": {"field": "y", "type": "quantitative", "scale": {"domain": [-18.6, 23.2], "nice": false, "zero": false}}, "text": {"field": "grp"}, "color": {"field": "grp", "type": "nominal", "legend": null}}},
{"data": {"values": [{}]}, "mark": {"type": "text", "text": "C – Eastern Pyrenees", "font": "Liberation Serif", "fontSize": 29, "align": "left", "baseline": "alphabetic", "color": "#000000"},
 "encoding": {"x": {"datum": -44.0, "type": "quantitative", "scale": {"domain": [-46.1, 38.5], "nice": false, "zero": false}}, "y": {"datum": 18.9, "type": "quantitative", "scale": {"domain": [-18.6, 23.2], "nice": false, "zero": false}}}}
]},
{"layer": [
{"data": {"values": [{}]}, "mark": {"type": "rect", "fill": "white", "stroke": "#8a8a8a", "strokeWidth": 1},
 "encoding": {"x": {"datum": 0.5115, "type": "quantitative", "scale": {"domain": [0.318, 8.115], "nice": false, "zero": false, "padding": 0}}, "x2": {"datum": 2.484}, "y": {"datum": 0, "type": "quantitative", "scale": {"domain": [-9, 409], "nice": false, "zero": false, "padding": 0}}, "y2": {"datum": 106}}},
{"data": {"name": "eigC"}, "mark": {"type": "bar", "width": 90, "stroke": "#555555", "strokeWidth": 0.7},
 "encoding": {"x": {"field": "axis", "type": "quantitative", "scale": {"domain": [0.318, 8.115], "nice": false, "zero": false, "padding": 0}}, "y": {"field": "eig", "type": "quantitative", "scale": {"domain": [-9, 409], "nice": false, "zero": false, "padding": 0}}, "y2": {"datum": 0},
 "fill": {"field": "kept", "type": "nominal", "legend": null, "scale": {"domain": ["yes", "no"], "range": ["#7f7f7f", "#d6d6d6"]}}}},
{"data": {"values": [{}]}, "mark": {"type": "text", "text": "DA eigenvalues", "font": "Liberation Sans", "fontSize": 8.5, "color": "#222222"},
 "encoding": {"x": {"datum": 1.912, "type": "quantitative", "scale": {"domain": [0.318, 8.115], "nice": false, "zero": false, "padding": 0}}, "y": {"datum": 97, "type": "quantitative", "scale": {"domain": [-9, 409], "nice": false, "zero": false, "padding": 0}}}}
]}
]
}
]
}
]
}
